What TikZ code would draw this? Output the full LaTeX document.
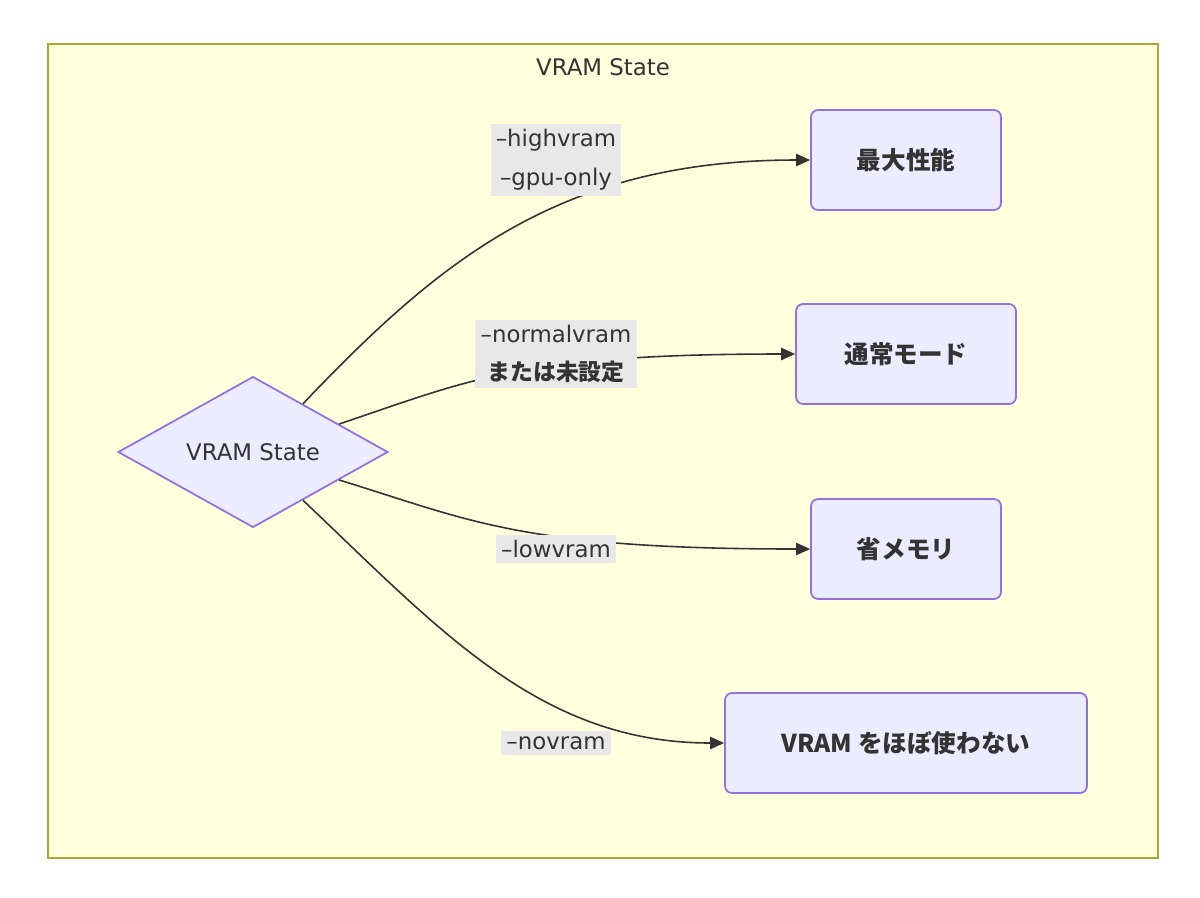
\documentclass[tikz,border=0pt]{standalone}
\usepackage{fontspec}
\setmainfont{DejaVu Sans}
\newfontfamily\cjk{Noto Sans CJK JP}
\usetikzlibrary{positioning,shapes.geometric,arrows.meta}
\definecolor{clusterfill}{HTML}{FFFFDE}
\definecolor{clusterline}{HTML}{AAAA33}
\definecolor{nodefill}{HTML}{ECECFF}
\definecolor{nodeline}{HTML}{9370DB}
\definecolor{labelfill}{HTML}{E8E8E8}
\definecolor{edgeline}{HTML}{333333}
\tikzset{
  state/.style={draw=nodeline, fill=nodefill, line width=1pt, rounded corners=4pt,
    minimum height=2cm, font=\cjk\bfseries\fontsize{14}{16}\selectfont, text=edgeline},
  choice/.style={draw=nodeline, fill=nodefill, line width=1pt, diamond, aspect=1,
    minimum width=5.4cm, inner sep=0pt, font=\fontsize{13}{15}\selectfont, text=edgeline},
  flag/.style={fill=labelfill, align=center, inner sep=3pt,
    font=\fontsize{13}{22}\selectfont, text=edgeline},
  edge/.style={draw=edgeline, line width=0.9pt, -{Triangle[length=8pt,width=7pt]}}
}
\begin{document}
\begin{tikzpicture}[x=0.02cm, y=-0.02cm]
\useasboundingbox (0,0) rectangle (1200,897);
\draw[fill=clusterfill, draw=clusterline, line width=1pt] (48,44) rectangle (1158,858);
\node[font=\fontsize{13}{15}\selectfont, text=edgeline] (title) at (603,67) {VRAM State};

\node[choice] (vram) at (253,452) {VRAM State};
\node[state, minimum width=3.8cm] (max) at (906,160) {最大性能};
\node[state, minimum width=4.4cm] (normal) at (906,354) {通常モード};
\node[state, minimum width=3.8cm] (low) at (906,549) {省メモリ};
\node[state, minimum width=7.24cm] (no) at (906,743) {VRAM をほぼ使わない};

% edges first, labels on top
\draw[edge] (vram.44) .. controls (440,260) and (560,160) .. (max.west);
\draw[edge] (vram.18) .. controls (470,380) and (520,354) .. (normal.west);
\draw[edge] (vram.-18) .. controls (470,520) and (520,549) .. (low.west);
\draw[edge] (vram.-44) .. controls (440,630) and (540,743) .. (no.west);

\node[flag] (fhigh) at (556,160) {--highvram\\--gpu-only};
\node[flag] (fnormal) at (556,354) {--normalvram\\{\cjk\bfseries または未設定}};
\node[flag] (flow) at (556,549) {--lowvram};
\node[flag] (fno) at (556,743) {--novram};
\end{tikzpicture}
\end{document}
